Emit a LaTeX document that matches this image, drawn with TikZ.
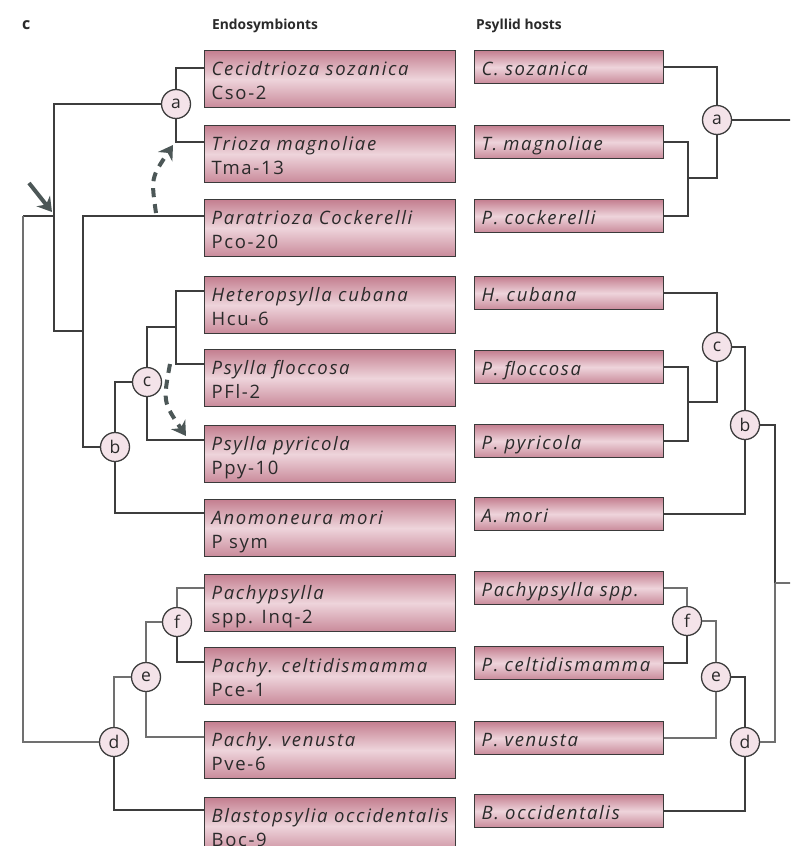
\documentclass[tikz,border=0pt]{standalone}
\usepackage{fontspec}
\setmainfont{Open Sans}
\setsansfont{Open Sans}
\usetikzlibrary{arrows.meta}
\definecolor{linedark}{HTML}{3D3D3D}
\definecolor{linelight}{HTML}{707070}
\definecolor{boxedge}{HTML}{3A3A3A}
\definecolor{boxtop}{HTML}{C47F90}
\definecolor{boxmid}{HTML}{EED4DB}
\definecolor{boxbot}{HTML}{C98A9A}
\definecolor{circfill}{HTML}{F4E3E9}
\definecolor{arrowc}{HTML}{4C5757}
\definecolor{textc}{HTML}{2A2A2A}
\newcommand{\boxfont}{\fontsize{18.5}{24}\selectfont\addfontfeatures{LetterSpace=9}}
\newcommand{\twoline}[2]{\parbox[c][57pt][t]{237pt}{\boxfont\rule{0pt}{25pt}\mbox{\textit{#1}}\\\mbox{#2}}}
\tikzset{
  lbox/.style={draw=boxedge, line width=1.3pt, top color=boxtop, bottom color=boxbot, middle color=boxmid, inner xsep=7pt, inner ysep=0pt, text=textc, anchor=north west},
  rbox/.style={draw=boxedge, line width=1.3pt, top color=boxtop, bottom color=boxbot, middle color=boxmid, inner xsep=7pt, inner ysep=3pt, text width=175pt, align=left, text height=22pt, text depth=5pt, text=textc, anchor=north west, font=\boxfont\itshape},
  cnode/.style={circle, draw=linedark, line width=1.3pt, fill=circfill, minimum size=29pt, inner sep=0pt, text=textc, font=\fontsize{17.5}{17.5}\selectfont},
  tree/.style={draw=linedark, line width=1.6pt},
  treel/.style={draw=linelight, line width=1.6pt},
  hdr/.style={anchor=base west, font=\fontsize{13.8}{16}\selectfont\bfseries, text=textc, inner sep=0pt},
  solidarrow/.style={draw=arrowc, line width=4pt, -{Stealth[length=14pt,width=17pt]}},
  dasharrow/.style={draw=arrowc, line width=4pt, dash pattern=on 9pt off 7pt, -{Stealth[length=14pt,width=17pt]}}
}
\begin{document}
\begin{tikzpicture}[x=1pt,y=-1pt]
\useasboundingbox (0,0) rectangle (790,846);
\clip (0,0) rectangle (790,846);
\fill[white] (0,0) rectangle (790,846);

% headers
\node[hdr, font=\fontsize{16}{16}\selectfont\bfseries] (hc) at (22,29) {c};
\node[hdr] (h1) at (212,29) {Endosymbionts};
\node[hdr] (h2) at (476,29) {Psyllid hosts};

% left boxes
\node[lbox] (L1) at (204,50) {\twoline{Cecidtrioza sozanica}{Cso-2}};
\node[lbox] (L2) at (204,125) {\twoline{Trioza magnoliae}{Tma-13}};
\node[lbox] (L3) at (204,199) {\twoline{Paratrioza Cockerelli}{Pco-20}};
\node[lbox] (L4) at (204,276) {\twoline{Heteropsylla cubana}{Hcu-6}};
\node[lbox] (L5) at (204,349) {\twoline{Psylla floccosa}{PFl-2}};
\node[lbox] (L6) at (204,425) {\twoline{Psylla pyricola}{Ppy-10}};
\node[lbox] (L7) at (204,499) {\twoline{Anomoneura mori}{P sym}};
\node[lbox] (L8) at (204,574) {\twoline{Pachypsylla}{spp. Inq-2}};
\node[lbox] (L9) at (204,647) {\twoline{Pachy. celtidismamma}{Pce-1}};
\node[lbox] (L10) at (204,721) {\twoline{Pachy. venusta}{Pve-6}};
\node[lbox] (L11) at (204,797) {\twoline{Blastopsylia occidentalis}{Boc-9}};

% right boxes
\node[rbox] (R1) at (474,50) {C. sozanica};
\node[rbox] (R2) at (474,125) {T. magnoliae};
\node[rbox] (R3) at (474,199) {P. cockerelli};
\node[rbox] (R4) at (474,276) {H. cubana};
\node[rbox] (R5) at (474,350) {P. floccosa};
\node[rbox] (R6) at (474,424) {P. pyricola};
\node[rbox] (R7) at (474,497) {A. mori};
\node[rbox] (R8) at (474,571) {Pachypsylla spp.};
\node[rbox] (R9) at (474,646) {P. celtidismamma};
\node[rbox] (R10) at (474,721) {P. venusta};
\node[rbox] (R11) at (474,794) {B. occidentalis};

% left tree circles
\node[cnode] (a) at (176,104) {a};
\node[cnode] (b) at (115,447) {b};
\node[cnode] (c) at (147,382) {c};
\node[cnode] (d) at (114,742) {d};
\node[cnode] (e) at (146,677) {e};
\node[cnode] (f) at (177,622) {f};
\coordinate (n1) at (54,216);
\coordinate (n2) at (83,331);
\coordinate (root) at (23,216);
\coordinate (hc1) at (176,327);

% left tree connectors
\draw[tree] ([yshift=-18pt]L1.north west) -| (a);
\draw[tree] ([yshift=-17pt]L2.north west) -| (a);
\draw[tree] (a) -| (n1);
\draw[tree] (n1) |- (n2);
\draw[tree] ([yshift=-17pt]L3.north west) -| (n2);
\draw[tree] (n2) |- (b);
\draw[tree] (b) |- ([yshift=-14pt]L7.north west);
\draw[tree] (b) |- (c);
\draw[tree] (c) |- (hc1);
\draw[tree] ([yshift=-15pt]L4.north west) -| (hc1);
\draw[tree] ([yshift=-15pt]L5.north west) -| (hc1);
\draw[tree] (c) |- ([yshift=-15pt]L6.north west);
\draw[tree] (n1) -- (root);
\draw[treel] (root) |- (d);
\draw[tree] (d) |- ([yshift=-13pt]L11.north west);
\draw[treel] (d) |- (e);
\draw[treel] (e) |- ([yshift=-16pt]L10.north west);
\draw[treel] (e) |- (f);
\draw[treel] (f) |- ([yshift=-14pt]L8.north west);
\draw[tree] (f) |- ([yshift=-15pt]L9.north west);

% right tree
\node[cnode] (aR) at (717,120) {a};
\node[cnode] (cR) at (717,347) {c};
\node[cnode] (bR) at (745,425) {b};
\node[cnode] (fR) at (687,621) {f};
\node[cnode] (eR) at (716,677) {e};
\node[cnode] (dR) at (745,742) {d};
\coordinate (m1) at (688,178);
\coordinate (m2) at (688,402);
\coordinate (rootR) at (775,583);
\coordinate (exitA) at (795,120);
\coordinate (exitR) at (795,583);

\draw[tree] (R1.east) -| (aR);
\draw[tree] (R2.east) -| (m1);
\draw[tree] (R3.east) -| (m1);
\draw[tree] (m1) -| (aR);
\draw[tree] (aR) -- (exitA);
\draw[tree] (R4.east) -| (cR);
\draw[tree] (R5.east) -| (m2);
\draw[tree] (R6.east) -| (m2);
\draw[tree] (m2) -| (cR);
\draw[tree] (cR) -| (bR);
\draw[tree] (R7.east) -| (bR);
\draw[tree] (bR) -| (rootR);
\draw[treel] (dR) -| (rootR);
\draw[treel] (rootR) -- (exitR);
\draw[treel] (R8.east) -| (fR);
\draw[tree] (R9.east) -| (fR);
\draw[treel] (fR) -| (eR);
\draw[treel] (R10.east) -| (eR);
\draw[tree] (eR) -| (dR);
\draw[tree] (R11.east) -| (dR);

% arrows
\coordinate (ar1s) at (29,183);
\coordinate (ar1e) at (52,212);
\draw[solidarrow] (ar1s) -- (ar1e);
\coordinate (ar2s) at (156,213);
\coordinate (ar2e) at (173,145);
\draw[dasharrow] (ar2s) .. controls (151,178) .. (ar2e);
\coordinate (ar3s) at (170,364);
\coordinate (ar3e) at (186,436);
\draw[dasharrow] (ar3s) .. controls (163,402) .. (ar3e);
\end{tikzpicture}
\end{document}
